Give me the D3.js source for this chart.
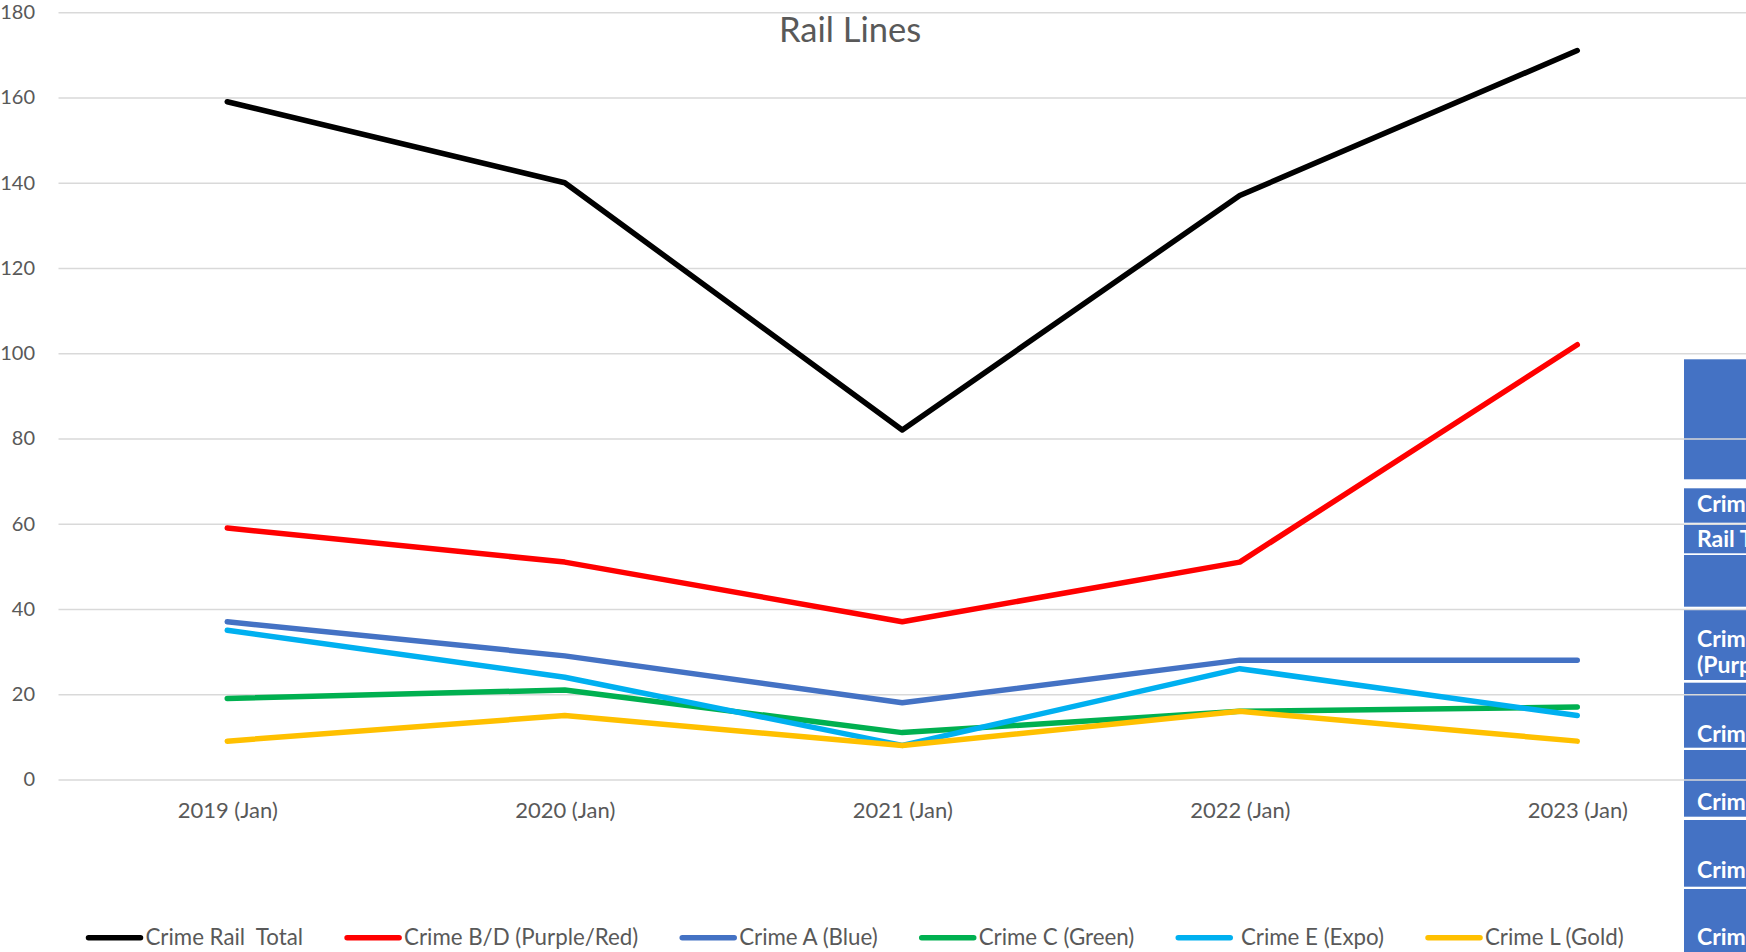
<!DOCTYPE html>
<html>
<head>
<meta charset="utf-8">
<script src="https://cdn.jsdelivr.net/npm/d3@7"></script>
<style>
  html, body { margin: 0; padding: 0; background: #ffffff; overflow: hidden; }
  svg { display: block; }
</style>
</head>
<body>
<svg id="chart" width="1746" height="952"></svg>
<script>
// ---------------- DATA ----------------
const title = "Rail Lines";
const categories = ["2019 (Jan)", "2020 (Jan)", "2021 (Jan)", "2022 (Jan)", "2023 (Jan)"];
const yTicks = [0, 20, 40, 60, 80, 100, 120, 140, 160, 180];

const seriesNames = ["Crime Rail  Total", "Crime B/D (Purple/Red)", "Crime A (Blue)", "Crime C (Green)", " Crime E (Expo)", "Crime L (Gold)"];
const crimeRailTotal = [159, 140, 82, 137, 171];
const crimeBD        = [59, 51, 37, 51, 102];
const crimeA         = [37, 29, 18, 28, 28];
const crimeC         = [19, 21, 11, 16, 17];
const crimeE         = [35, 24, 8, 26, 15];
const crimeL         = [9, 15, 8, 16, 9];
const seriesColors = ["#000000", "#FF0000", "#4472C4", "#00B050", "#00B0F0", "#FFC000"];

// partially visible side table (spreadsheet cells behind the chart)
const tableLabels = [[], ["Crime"], ["Rail Total"], [], ["Crime B/D", "(Purple/Red)"], ["Crime A (Blue)"], ["Crime C (Green)"], ["Crime E (Expo)"], ["Crime L (Gold)"]];

// ---------------- LAYOUT ----------------
const W = 1746, H = 952;
const plotLeft = 58.5, plotRight = 1746, plotTop = 12.2, plotBottom = 779.5;
const svg = d3.select("#chart");
const font = "Lato, 'Open Sans', sans-serif";
const textColor = "#595959";
const gridColor = "#D9D9D9";

// side table rows (top, bottom) in px
const tableRows = [[359.3, 479.3], [488.3, 522.7], [524, 553.3], [555, 606.7], [610, 680], [682.7, 747.7], [750, 816.7], [820, 886.7], [889, 960]];
const tableBaselines = [[], [511.7], [546.7], [], [647, 673], [741.7], [810], [878.3], [945]];
const tableX = 1684;

const clip = svg.append("defs").append("clipPath").attr("id", "tblclip");
clip.append("rect").attr("x", tableX).attr("y", 0).attr("width", W - tableX).attr("height", H);

const tbl = svg.append("g").attr("clip-path", "url(#tblclip)");
tableRows.forEach((r, i) => {
  tbl.append("rect").attr("x", tableX).attr("y", r[0]).attr("width", W - tableX + 10).attr("height", r[1] - r[0]).attr("fill", "#4472C4");
  tableLabels[i].forEach((t, j) => {
    tbl.append("text").attr("x", 1697).attr("y", tableBaselines[i][j])
      .attr("fill", "#ffffff").attr("font-family", font).attr("font-weight", 700).attr("font-size", 23)
      .text(t);
  });
});

// scales
const x = d3.scalePoint().domain(categories).range([plotLeft, plotRight]).padding(0.5);
const y = d3.scaleLinear().domain([0, 180]).range([plotBottom, plotTop]);

// gridlines
const grid = svg.append("g").attr("transform", `translate(${plotLeft},0)`)
  .call(d3.axisLeft(y).tickValues(yTicks).tickSize(-(plotRight - plotLeft)).tickFormat(""));
grid.select(".domain").remove();
grid.selectAll(".tick line").attr("stroke", gridColor).attr("stroke-width", 1.4);

// y axis labels
const yAxis = svg.append("g").attr("transform", `translate(${plotLeft},0)`)
  .call(d3.axisLeft(y).tickValues(yTicks).tickSize(0).tickPadding(23.5));
yAxis.select(".domain").remove();
yAxis.selectAll("text").attr("fill", textColor).attr("font-family", font).attr("font-size", 20);

// x axis labels
const xAxis = svg.append("g").attr("transform", `translate(0,${plotBottom})`)
  .call(d3.axisBottom(x).tickSize(0).tickPadding(23));
xAxis.select(".domain").remove();
xAxis.selectAll("text").attr("fill", textColor).attr("font-family", font).attr("font-size", 22);

// title
svg.append("text").attr("x", 850).attr("y", 41.7).attr("text-anchor", "middle")
  .attr("fill", textColor).attr("font-family", font).attr("font-size", 34.5).text(title);

// series lines
const allSeries = [crimeRailTotal, crimeBD, crimeA, crimeC, crimeE, crimeL];
const line = d3.line().x((d, i) => x(categories[i])).y(d => y(d));
allSeries.forEach((vals, k) => {
  svg.append("path").datum(vals).attr("d", line)
    .attr("fill", "none").attr("stroke", seriesColors[k]).attr("stroke-width", 5.5)
    .attr("stroke-linecap", "round").attr("stroke-linejoin", "round");
});

// legend
const legend = svg.append("g");
let lx = 88.5;
const legendY = 937.7;
seriesNames.forEach((name, k) => {
  legend.append("line").attr("x1", lx).attr("x2", lx + 52).attr("y1", legendY).attr("y2", legendY)
    .attr("stroke", seriesColors[k]).attr("stroke-width", 5.5).attr("stroke-linecap", "round");
  const t = legend.append("text").attr("x", lx + 57).attr("y", legendY + 7.4)
    .attr("fill", textColor).attr("font-family", font).attr("font-size", 22.3)
    .attr("xml:space", "preserve").style("white-space", "pre").text(name);
  const w = t.node().getComputedTextLength();
  lx = lx + 57 + w + 44;
});
</script>
</body>
</html>
